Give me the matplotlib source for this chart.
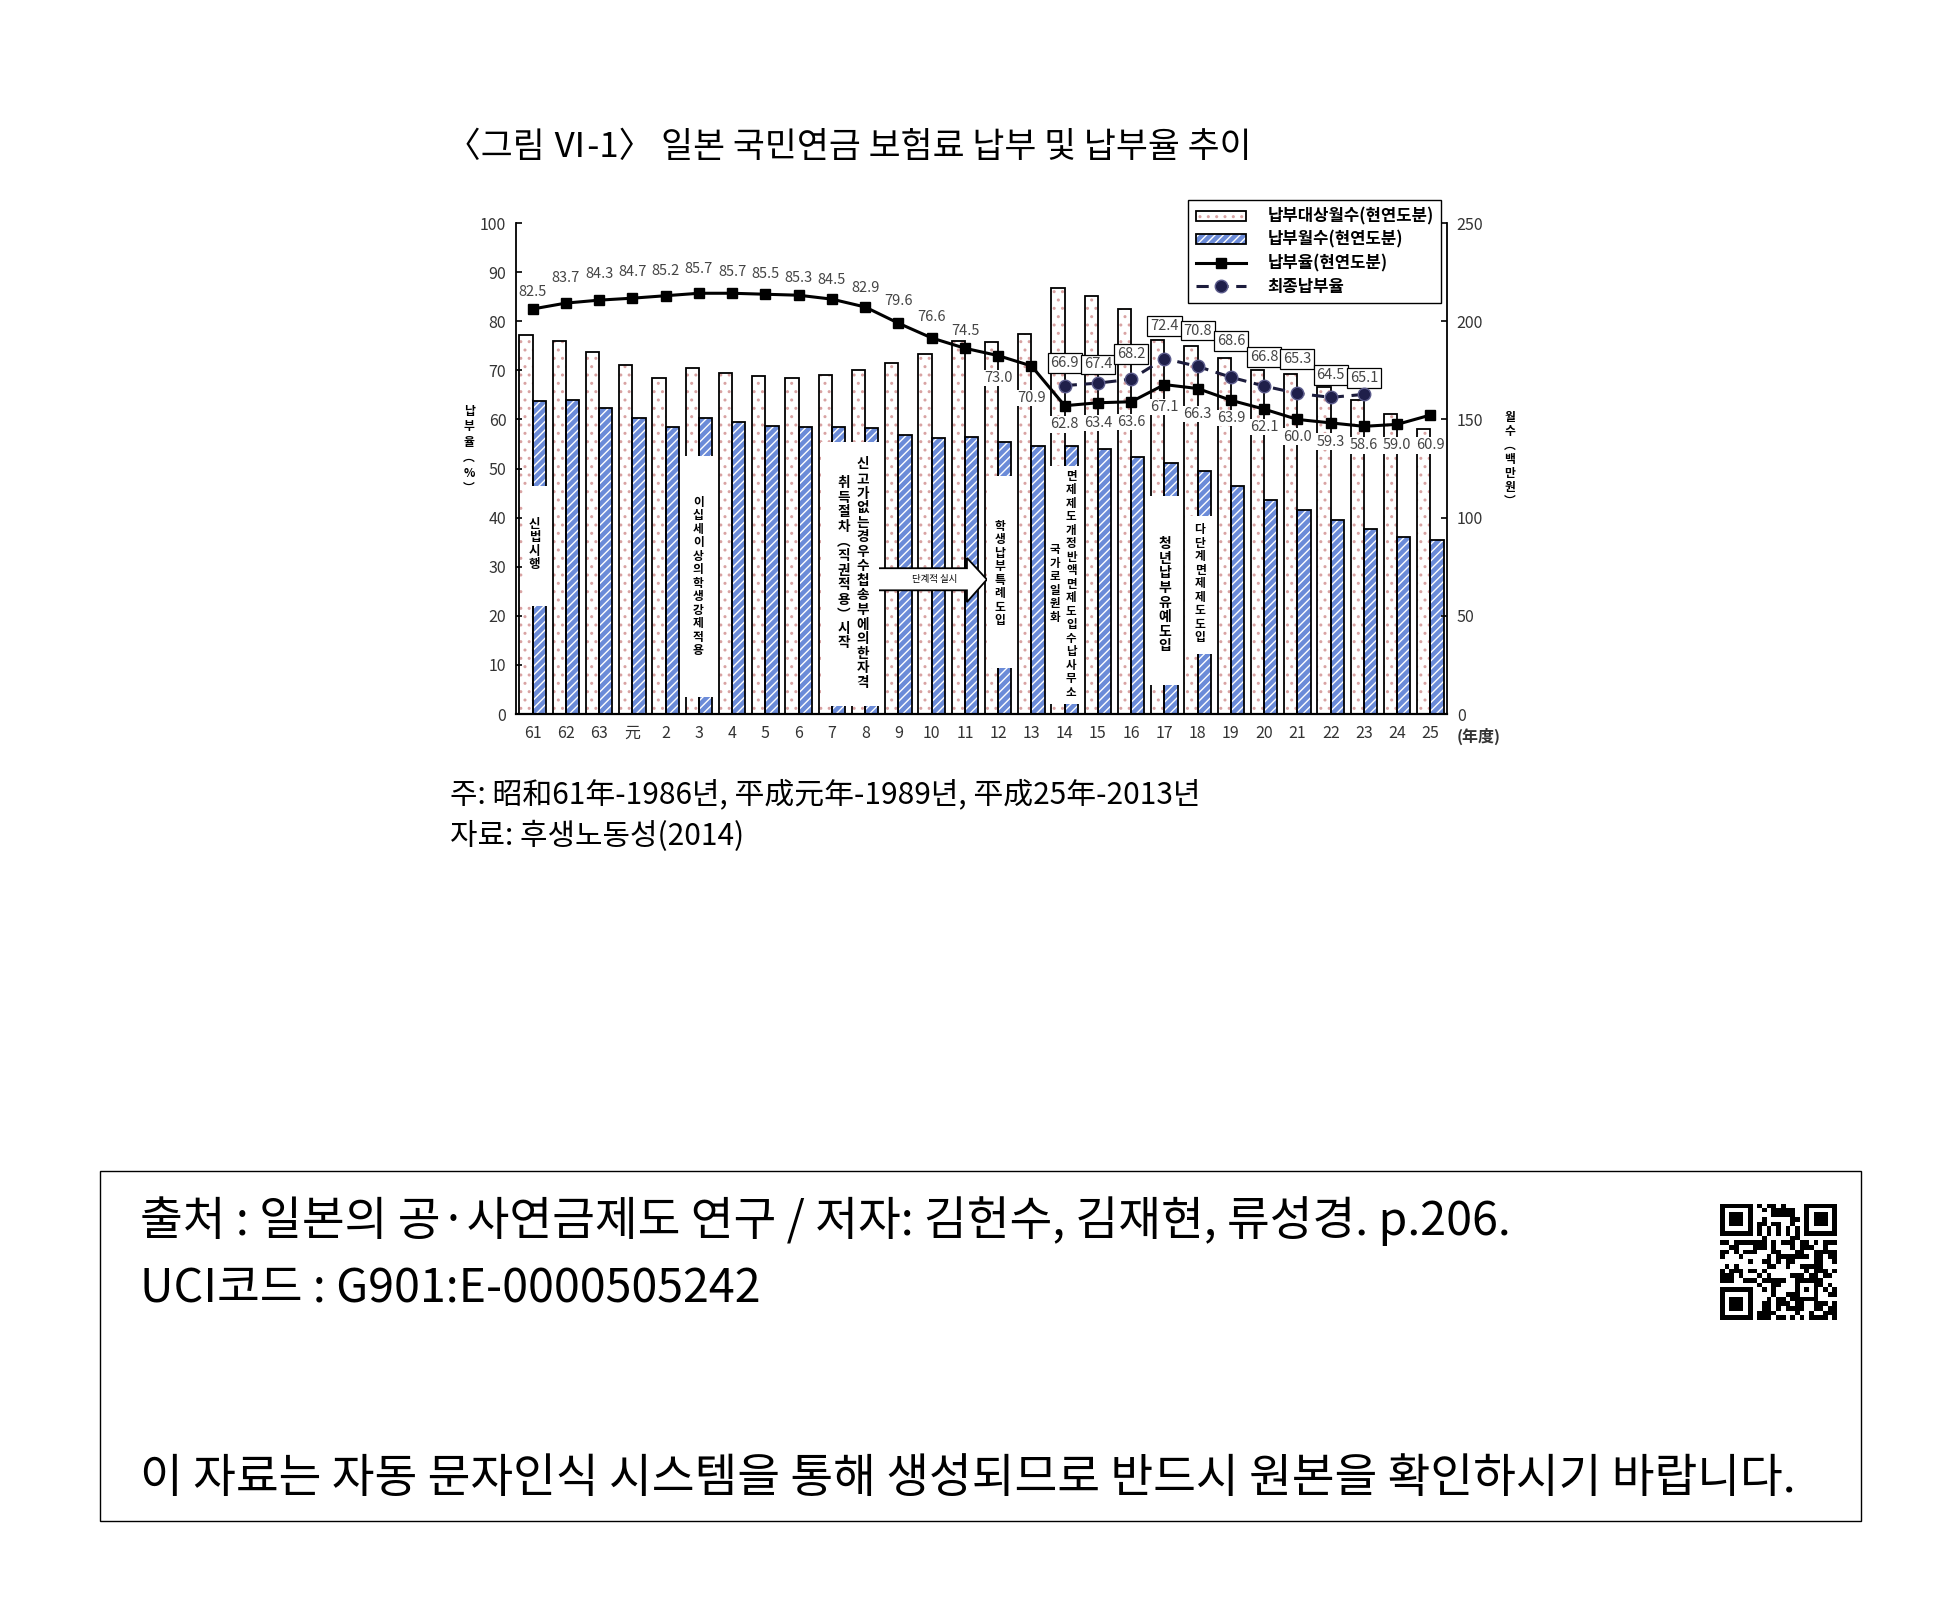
import hashlib
import numpy as np
import matplotlib
matplotlib.use('Agg')
import matplotlib.pyplot as plt
from matplotlib.patches import Rectangle, Polygon
from matplotlib.legend_handler import HandlerTuple

plt.rcParams['font.family'] = ['Noto Sans CJK KR', 'DejaVu Sans']
plt.rcParams['hatch.linewidth'] = 1.0

# --- data ---
years = ['61', '62', '63', '元'] + [str(i) for i in range(2, 26)]
# 납부대상월수(현연도분), 백만월
target_months = [193, 190, 184.5, 177.5, 171, 176, 173.5, 172, 171.3, 172.5,
                 175.3, 178.5, 183.3, 189.8, 189.3, 193.3, 217, 212.7, 206, 190.7,
                 187.3, 181.5, 175, 173, 166.6, 159.8, 152.7, 145]
# 납부월수(현연도분), 백만월
paid_months = [159.3, 159.8, 155.8, 150.5, 146, 150.8, 148.8, 146.5, 146, 146,
               145.5, 142, 140.5, 141.3, 138.3, 136.6, 136.4, 134.9, 131, 128,
               123.9, 116.3, 109, 103.7, 98.8, 94.1, 90.3, 88.6]
# 납부율(현연도분), %
pay_rate = [82.5, 83.7, 84.3, 84.7, 85.2, 85.7, 85.7, 85.5, 85.3, 84.5,
            82.9, 79.6, 76.6, 74.5, 73.0, 70.9, 62.8, 63.4, 63.6, 67.1,
            66.3, 63.9, 62.1, 60.0, 59.3, 58.6, 59.0, 60.9]
# 최종납부율, %
final_years = ['14', '15', '16', '17', '18', '19', '20', '21', '22', '23']
final_rate = [66.9, 67.4, 68.2, 72.4, 70.8, 68.6, 66.8, 65.3, 64.5, 65.1]

# label offsets (in % units) -- layout only
rate_dy = [3.5, 5.1, 5.3, 5.4, 5.1, 4.9, 4.4, 4.1, 3.5, 3.8, 3.9, 4.6, 4.3, 3.6,
           -4.6, -6.5, -3.8, -4.1, -4.1, -4.5, -5.2, -3.6, -3.6, -3.5, -3.8, -3.9, -4.3, -6.2]
final_dy = [4.6, 3.8, 5.1, 6.7, 7.3, 7.4, 6.0, 7.0, 4.5, 3.3]

# policy notes: white box (x0, y0, x1, y1) and vertical text columns
policy_notes = [
    ((-0.3, 22, 0.42, 46.5), [('신법시행', 0.06, 34.5, 9)]),
    ((4.5, 3.5, 5.42, 52.5), [('이십세 이상의 학생 강제적용', 4.98, 28, 8.5)]),
    ((8.68, 1.7, 10.42, 55.5), [('신고가 없는 경우 수첩 송부에의한자격', 9.92, 28.6, 9.8),
                                ('취득 절차 (직권적용) 시작', 9.36, 30.7, 9.8)]),
    ((13.67, 9.3, 14.45, 48.4), [('학생납부특례 도입', 14.05, 28.6, 8.5)]),
    ((15.56, 2.0, 16.52, 50.5), [('면제제도 개정 반액면제 도입 수납사무소', 16.2, 26.4, 8.3),
                                 ('국가로 일원화', 15.71, 26.6, 8.3)]),
    ((18.58, 5.9, 19.52, 44.4), [('청년납부유예 도입', 19.02, 24.2, 10)]),
    ((19.64, 12.2, 20.47, 40.4), [('다단계 면제제도 도입', 20.07, 26.5, 8.5)]),
]


def vert(s):
    s = s.replace('(', '︵').replace(')', '︶').replace(' ', '')
    return '\n'.join(s)


def qr_like(seed, n=25):
    bits = []
    h = seed.encode()
    while len(bits) < n * n:
        h = hashlib.sha256(h).digest()
        for b in h:
            bits.extend((b >> k) & 1 for k in range(8))
    m = np.array(bits[:n * n]).reshape(n, n)
    finder = np.ones((7, 7), int)
    finder[1:6, 1:6] = 0
    finder[2:5, 2:5] = 1
    for r, c in [(0, 0), (0, n - 7), (n - 7, 0)]:
        m[max(r - 1, 0):r + 8, max(c - 1, 0):c + 8] = 0
        m[r:r + 7, c:c + 7] = finder
    m[6, 8:n - 8] = np.arange(n - 16) % 2 == 0
    m[8:n - 8, 6] = np.arange(n - 16) % 2 == 0
    al = np.ones((5, 5), int)
    al[1:4, 1:4] = 0
    al[2, 2] = 1
    m[n - 9:n - 4, n - 9:n - 4] = al
    return m


fig = plt.figure(figsize=(19.6, 16.21), dpi=100)

ax = fig.add_axes([0.2633, 0.5595, 0.475, 0.3029])
ax2 = ax.twinx()
ax.set_zorder(ax2.get_zorder() + 1)
ax.patch.set_visible(False)

x = np.arange(len(years))
w = 0.4

# bars (right axis)
bt_h = ax2.bar(x - w / 2, target_months, w, color='white', edgecolor='#d9a3a3',
               hatch='..', lw=0, zorder=1)
bt_e = ax2.bar(x - w / 2, target_months, w, fill=False, edgecolor='black', lw=1.3, zorder=2)
bp_h = ax2.bar(x + w / 2, paid_months, w, color='#6b8bd8', edgecolor='white',
               hatch='////', lw=0, zorder=1)
bp_e = ax2.bar(x + w / 2, paid_months, w, fill=False, edgecolor='black', lw=1.3, zorder=2)

# policy notes
for (x0, y0, x1, y1), cols in policy_notes:
    ax.add_patch(Rectangle((x0, y0), x1 - x0, y1 - y0, fc='white', ec='none', zorder=3.5))
    for txt, tx, ty, fs in cols:
        ax.text(tx, ty, vert(txt), ha='center', va='center', fontsize=fs,
                weight='bold', linespacing=1.05, zorder=3.6)

# block arrow "단계적 실시"
arrow = Polygon([(10.3, 29.7), (13.06, 29.7), (13.06, 31.8), (13.66, 27.4),
                 (13.06, 22.8), (13.06, 25.2), (10.3, 25.2)], closed=True,
                fc='white', ec='black', lw=1.3, zorder=3.2)
ax.add_patch(arrow)
ax.text(12.1, 27.4, '단계적 실시', ha='center', va='center', fontsize=6.8, zorder=3.6)

# lines (left axis)
l1, = ax.plot(x, pay_rate, color='black', lw=2.2, marker='s', ms=7, zorder=6)
fx = [years.index(y) for y in final_years]
l2, = ax.plot(fx, final_rate, color='#1c1c3c', lw=2.2, ls=(0, (4, 2.5)), marker='o', ms=9,
              mfc='#1f1f4a', mec='#5c5c8c', mew=1.0, zorder=7)

for xi, v, dy in zip(x, pay_rate, rate_dy):
    ax.text(xi, v + dy, f'{v:.1f}', ha='center', va='center', fontsize=10.5, color='#444444',
            bbox=dict(boxstyle='square,pad=0.08', fc='white', ec='none'), zorder=5)
for xi, v, dy in zip(fx, final_rate, final_dy):
    ax.text(xi, v + dy, f'{v:.1f}', ha='center', va='center', fontsize=10.5, color='#444444',
            bbox=dict(boxstyle='square,pad=0.2', fc='white', ec='black', lw=0.9), zorder=5)

# axes formatting
ax.set_xlim(-0.5, len(years) - 0.5)
ax.set_ylim(0, 100)
ax2.set_ylim(0, 250)
ax.set_yticks(range(0, 101, 10))
ax2.set_yticks(range(0, 251, 50))
ax.set_xticks(x, years)
ax.tick_params(axis='x', length=0, pad=8, labelsize=11.5, labelcolor='#333333')
ax.tick_params(axis='y', direction='in', length=4, width=1.2, pad=7, labelsize=11.5,
               labelcolor='#333333')
ax2.tick_params(axis='y', direction='in', length=4, width=1.2, pad=7, labelsize=11.5,
                labelcolor='#333333')
for s in ['top', 'right']:
    ax.spines[s].set_visible(False)
for s in ['top', 'left', 'bottom']:
    ax2.spines[s].set_visible(False)
ax.spines['left'].set_linewidth(1.3)
ax.spines['bottom'].set_linewidth(1.6)
ax2.spines['right'].set_linewidth(1.3)

leg = ax.legend([(bt_h, bt_e), (bp_h, bp_e), l1, l2],
                ['납부대상월수(현연도분)', '납부월수(현연도분)', '납부율(현연도분)', '최종납부율'],
                handler_map={tuple: HandlerTuple(ndivide=1, pad=0)},
                loc='upper right', bbox_to_anchor=(0.7352, 0.8766),
                bbox_transform=fig.transFigure, borderaxespad=0,
                fancybox=False, framealpha=1, edgecolor='black',
                prop={'size': 12, 'weight': 'bold'}, handlelength=3.0, handleheight=0.55,
                handletextpad=1.3, labelspacing=0.32, borderpad=0.45)
leg.get_frame().set_linewidth(1.0)

fig.text(0.2393, 0.7224, '납\n부\n율\n︵\n%\n︶', ha='center', va='center',
         fontsize=8.5, weight='bold', linespacing=1.25)
fig.text(0.7704, 0.7168, '월\n수\n︵\n백\n만\n원\n︶', ha='center', va='center',
         fontsize=8.5, weight='bold', linespacing=1.1)
fig.text(0.7546, 0.546, '(年度)', ha='center', va='center', fontsize=11.5,
         color='#333333', weight='bold')

# title and notes
fig.text(0.2276, 0.9087, '〈그림 Ⅵ-1〉 일본 국민연금 보험료 납부 및 납부율 추이',
         ha='left', va='center', fontsize=25)
fig.text(0.2296, 0.5096, '주: 昭和61年-1986년, 平成元年-1989년, 平成25年-2013년',
         ha='left', va='center', fontsize=21.5)
fig.text(0.2296, 0.4843, '자료: 후생노동성(2014)', ha='left', va='center', fontsize=21.5)

# source box
fig.patches.append(Rectangle((0.0510, 0.0617), 0.8985, 0.2159, transform=fig.transFigure,
                             fill=False, ec='black', lw=1.0))
fig.text(0.0714, 0.2468, '출처 : 일본의 공·사연금제도 연구 / 저자: 김헌수, 김재현, 류성경. p.206.',
         ha='left', va='center', fontsize=33.5)
fig.text(0.0714, 0.2048, 'UCI코드 : G901:E-0000505242', ha='left', va='center', fontsize=33.5)
fig.text(0.0714, 0.0876, '이 자료는 자동 문자인식 시스템을 통해 생성되므로 반드시 원본을 확인하시기 바랍니다.',
         ha='left', va='center', fontsize=33.5)

axq = fig.add_axes([0.8776, 0.1857, 0.0592, 0.0716])
axq.imshow(qr_like('G901:E-0000505242'), cmap='gray_r', interpolation='nearest')
axq.axis('off')

fig.savefig('out.png', dpi=100)
